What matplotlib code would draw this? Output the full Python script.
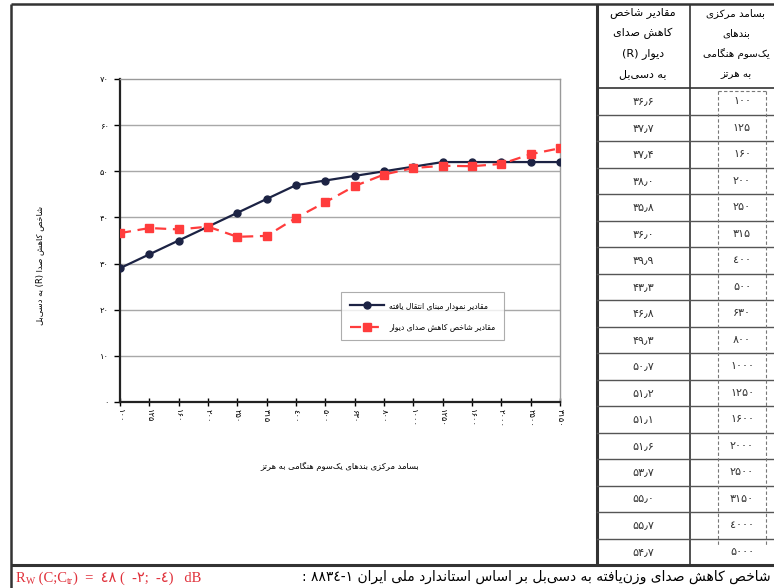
import matplotlib
matplotlib.use("Agg")
import matplotlib.pyplot as plt

# third-octave band centre frequencies (Hz)
freqs = [100, 125, 160, 200, 250, 315, 400, 500, 630, 800, 1000, 1250,
         1600, 2000, 2500, 3150, 4000, 5000]
# measured sound reduction index R (dB)
r_wall = [36.6, 37.7, 37.4, 38.0, 35.8, 36.0, 39.9, 43.3, 46.8, 49.3, 50.7,
          51.2, 51.1, 51.6, 53.7, 55.0, 55.7, 54.7]
# shifted reference curve (dB), 100 .. 3150 Hz
r_ref = [29, 32, 35, 38, 41, 44, 47, 48, 49, 50, 51, 52, 52, 52, 52, 52]
y_ticks = [0, 10, 20, 30, 40, 50, 60, 70]

lbl_ref = "مقادیر نمودار مبنای انتقال یافته"
lbl_wall = "مقادیر شاخص کاهش صدای دیوار"
x_title = "بسامد مرکزی بندهای یک‌سوم هنگامی به هرتز"
y_title = "شاخص کاهش صدا (R) به دسی‌بل"
head_r = ["مقادیر شاخص", "کاهش صدای", "دیوار (R)", "به دسی‌بل"]
head_f = ["بسامد مرکزی", "بندهای", "یک‌سوم هنگامی", "به هرتز"]
foot = "شاخص کاهش صدای وزن‌یافته به دسی‌بل بر اساس استاندارد ملی ایران ۸۸۳٤-۱ :"
rw_parts = ["R", "W", " (C;C", "tr", ")  =  ٤٨ (  -٢;  -٤)   dB"]

# ---- minimal Arabic-script shaping (matplotlib has no text shaping) ----
FORMS = {
    "ا": ("\uFE8D", "\uFE8E", None, None), "آ": ("\uFE81", "\uFE82", None, None),
    "ب": ("\uFE8F", "\uFE90", "\uFE91", "\uFE92"), "پ": ("\uFB56", "\uFB57", "\uFB58", "\uFB59"),
    "ت": ("\uFE95", "\uFE96", "\uFE97", "\uFE98"), "ث": ("\uFE99", "\uFE9A", "\uFE9B", "\uFE9C"),
    "ج": ("\uFE9D", "\uFE9E", "\uFE9F", "\uFEA0"), "چ": ("\uFB7A", "\uFB7B", "\uFB7C", "\uFB7D"),
    "ح": ("\uFEA1", "\uFEA2", "\uFEA3", "\uFEA4"), "خ": ("\uFEA5", "\uFEA6", "\uFEA7", "\uFEA8"),
    "د": ("\uFEA9", "\uFEAA", None, None), "ذ": ("\uFEAB", "\uFEAC", None, None),
    "ر": ("\uFEAD", "\uFEAE", None, None), "ز": ("\uFEAF", "\uFEB0", None, None),
    "ژ": ("\uFB8A", "\uFB8B", None, None),
    "س": ("\uFEB1", "\uFEB2", "\uFEB3", "\uFEB4"), "ش": ("\uFEB5", "\uFEB6", "\uFEB7", "\uFEB8"),
    "ص": ("\uFEB9", "\uFEBA", "\uFEBB", "\uFEBC"), "ض": ("\uFEBD", "\uFEBE", "\uFEBF", "\uFEC0"),
    "ط": ("\uFEC1", "\uFEC2", "\uFEC3", "\uFEC4"), "ظ": ("\uFEC5", "\uFEC6", "\uFEC7", "\uFEC8"),
    "ع": ("\uFEC9", "\uFECA", "\uFECB", "\uFECC"), "غ": ("\uFECD", "\uFECE", "\uFECF", "\uFED0"),
    "ف": ("\uFED1", "\uFED2", "\uFED3", "\uFED4"), "ق": ("\uFED5", "\uFED6", "\uFED7", "\uFED8"),
    "ک": ("\uFB8E", "\uFB8F", "\uFB90", "\uFB91"), "گ": ("\uFB92", "\uFB93", "\uFB94", "\uFB95"),
    "ل": ("\uFEDD", "\uFEDE", "\uFEDF", "\uFEE0"), "م": ("\uFEE1", "\uFEE2", "\uFEE3", "\uFEE4"),
    "ن": ("\uFEE5", "\uFEE6", "\uFEE7", "\uFEE8"), "و": ("\uFEED", "\uFEEE", None, None),
    "ه": ("\uFEE9", "\uFEEA", "\uFEEB", "\uFEEC"), "ی": ("\uFBFC", "\uFBFD", "\uFBFE", "\uFBFF"),
}


def shape_word(w):
    out = []
    for i, c in enumerate(w):
        if c not in FORMS:
            if c != "\u200c":
                out.append(c)
            continue
        iso, fin, ini, med = FORMS[c]
        prev = w[i - 1] if i > 0 else None
        nxt = w[i + 1] if i < len(w) - 1 else None
        jp = prev in FORMS and FORMS[prev][2] is not None
        jn = nxt in FORMS and ini is not None
        out.append(med if jp and jn else fin if jp else ini if jn else iso)
    return "".join(out)


def fa(text):
    words = []
    for w in text.split(" "):
        if any(c in FORMS for c in w):
            w = shape_word(w)[::-1]
        words.append(w)
    return " ".join(words[::-1])


def fa_num(v, four="۴"):
    return str(v).translate(str.maketrans("0123456789.", "۰۱۲۳" + four + "۵۶۷۸۹٫"))


plt.rcParams["font.family"] = ["DejaVu Sans"]

W, H = 774, 588
fig = plt.figure(figsize=(W / 100, H / 100), dpi=100)
ov = fig.add_axes([0, 0, 1, 1])
ov.set_xlim(0, W)
ov.set_ylim(H, 0)
ov.axis("off")

# ---- chart ----
ax = fig.add_axes([120 / W, 186 / H, 440 / W, 323 / H])
xs = list(range(len(r_ref)))
ax.plot(xs, r_ref, color="#1c2344", lw=1.6, marker="o", ms=5, label=fa(lbl_ref), zorder=3)
ax.plot(xs, r_wall[:len(r_ref)], color="#ff3c3c", lw=1.6, ls=(0, (5, 3)), marker="s", ms=5.5,
        label=fa(lbl_wall), zorder=4)
ax.set_xlim(0, len(r_ref) - 1)
ax.set_ylim(0, 70)
ax.set_yticks(y_ticks)
ax.set_yticklabels([fa_num(v) for v in y_ticks], fontsize=6)
ax.set_xticks(xs)
ax.set_xticklabels([fa_num(f, "٤") for f in freqs[:len(r_ref)]], rotation=270, fontsize=6)
ax.tick_params(axis="x", direction="inout", length=6, width=1, pad=2)
ax.tick_params(axis="y", direction="out", length=4, width=1, pad=4)
for v in y_ticks[1:-1]:
    ax.axhline(v, color="#a8a8a8", lw=1, zorder=1)
for s in ["top", "right"]:
    ax.spines[s].set_color("#999999")
    ax.spines[s].set_linewidth(1)
for s in ["left", "bottom"]:
    ax.spines[s].set_color("#222222")
    ax.spines[s].set_linewidth(1.6)

leg = ax.legend(loc="upper left", bbox_to_anchor=((337 - 120) / 440, (402 - 288) / 323),
                fontsize=5.5, frameon=True, fancybox=False, handlelength=4.5,
                borderpad=1.2, labelspacing=1.6, handletextpad=0.6)
leg.get_frame().set_edgecolor("#999999")
leg.get_frame().set_linewidth(0.8)

ov.text(40, 265, fa(y_title), rotation=90, fontsize=6, ha="center", va="center")
ov.text(340, 466, fa(x_title), fontsize=6, ha="center", va="center")

# ---- frames ----
kw = dict(color="#333333", solid_capstyle="butt")
ov.plot([11, 11], [4, H], lw=1.8, **kw)
ov.plot([11, W], [4, 4], lw=1.8, **kw)
ov.plot([597, 597], [4, 565], lw=2.2, **kw)
ov.plot([11, W], [565, 565], lw=2.2, **kw)
ov.plot([690, 690], [4, 565], lw=1.2, **kw)

# ---- table ----
top, bot = 88, 565
rh = (bot - top) / len(freqs)
ov.plot([597, W], [top, top], lw=1.2, **kw)
for i in range(1, len(freqs)):
    ov.plot([597, W], [top + i * rh] * 2, lw=1, color="#555555")
ov.plot([718, 718], [91, 545], lw=0.8, ls=(0, (3, 2)), color="#777777")
ov.plot([766, 766], [91, 545], lw=0.8, ls=(0, (3, 2)), color="#777777")
ov.plot([718, 766], [91, 91], lw=0.8, ls=(0, (3, 2)), color="#777777")

for j, (a, b) in enumerate(zip(head_r, head_f)):
    y = 13 + j * 20.3
    ov.text(643, y, fa(a), fontsize=8, ha="center", va="center")
    ov.text(736, y, fa(b), fontsize=7.4, ha="center", va="center")
for i, (f, r) in enumerate(zip(freqs, r_wall)):
    y = top + (i + 0.5) * rh
    ov.text(643, y, fa_num(r), fontsize=8, ha="center", va="center", color="#333333")
    ov.text(742, y, fa_num(f, "٤"), fontsize=8, ha="center", va="center", color="#333333")

# ---- footer ----
ov.text(771, 577, fa(foot), fontsize=10, ha="right", va="center")
renderer = fig.canvas.get_renderer()
x = 16
for k, part in enumerate(rw_parts):
    small = k in (1, 3)
    t = ov.text(x, 578 + (3 if small else 0), part, fontsize=7 if small else 10.5,
                ha="left", va="center", color="#e0303a",
                family=["Liberation Serif", "DejaVu Sans"])
    x += t.get_window_extent(renderer=renderer).width

fig.savefig("out.png", dpi=100)
